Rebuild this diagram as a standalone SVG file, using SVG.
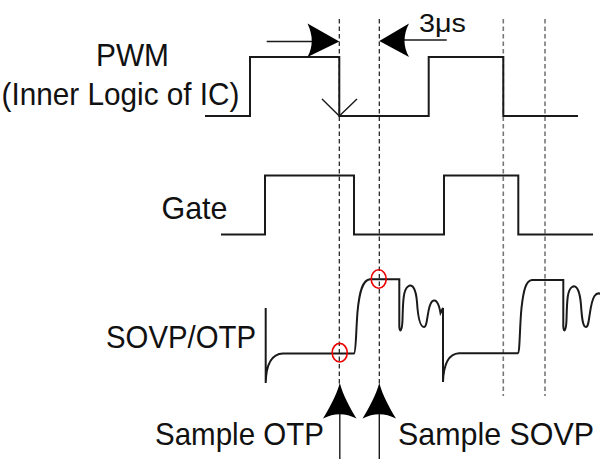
<svg xmlns="http://www.w3.org/2000/svg" width="600" height="459" viewBox="0 0 600 459">
<style>
.sig{fill:none;stroke:#1a1a1a;stroke-width:2;stroke-linejoin:miter}
.thin{fill:none;stroke:#1a1a1a;stroke-width:1.4}
.dashk{fill:none;stroke:#1a1a1a;stroke-width:1.2;stroke-dasharray:4.5 3}
.dashg{fill:none;stroke:#777;stroke-width:1.6;stroke-dasharray:4.5 3}
.head{fill:#000;stroke:none}
.lbl{font-family:"Liberation Sans",Arial,sans-serif;font-size:30.5px;fill:#111}
.mark{fill:none;stroke:#e00;stroke-width:1.6}
</style>
<rect width="600" height="459" fill="#fff"/>
<g id="guides">
<line class="dashk" x1="339.3" y1="19" x2="339.3" y2="386"/>
<line class="dashk" x1="379.3" y1="19" x2="379.3" y2="386"/>
<line class="dashg" x1="503.3" y1="19" x2="503.3" y2="396"/>
<line class="dashg" x1="545" y1="19" x2="545" y2="396"/>
</g>
<g id="pwm">
<path class="sig" d="M205,116 L250,116 L250,57 L339.3,57 L339.3,116 L428.7,116 L428.7,57 L503.3,57 L503.3,116 L578,116"/>
<path class="thin" d="M322,99 L339.3,116 L357,99"/>
</g>
<g id="gate">
<path class="sig" d="M221,234.5 L265,234.5 L265,175.5 L354,175.5 L354,234.5 L444,234.5 L444,175.5 L518.3,175.5 L518.3,234.5 L593,234.5"/>
</g>
<g id="sovp">
<path class="sig" d="M265.7,308 L265.7,383 C266,368 270,354 283,353.5 L354,353.5 C356,353 356,330 357.5,312 C359.5,290 363,280 370,279.3 L399.3,279.3 L399.3,326 C399.5,333 402,332 402.5,320 C403,303 403,290 408,286.5 C413,283 416,290 417,302 C418,318 420,327 424,327 C428,327 427,306 432,301.5 C436,298 439,304 440.5,313 L443,308 L443,382 C443.5,367 447,354 459,353.3 L517.7,353.3 C520,353 519.5,328 521.5,308 C523.5,290 526,280.5 532,280 L563.3,280 L563.3,326 C563.5,333 566,332 566.5,320 C567,303 567,290 572,287 C577,284 580,292 581,305 C582,320 583,327 586,327 C590,327 589,304 594.5,296 C597,292.5 599,293 601,294"/>
<ellipse class="mark" cx="339.7" cy="352.7" rx="7.5" ry="9.3"/>
<ellipse class="mark" cx="378.7" cy="279" rx="7.5" ry="9.3"/>
</g>
<g id="connectors">
<line class="thin" x1="266.7" y1="41.5" x2="312" y2="41.5"/>
<path class="head" d="M339.3,41.5 L307.5,23.5 Q316,41.5 307.5,57 Z"/>
<line class="thin" x1="383" y1="40" x2="446.7" y2="40"/>
<path class="head" d="M379.3,41 L409,23.5 Q400,41 409,57 Z"/>
<line class="thin" x1="339.8" y1="412" x2="339.8" y2="459"/>
<path class="head" d="M339.8,383 C343,395 350,408 356.5,418.5 Q339.8,410 323,418.5 C329.5,408 336.5,395 339.8,383 Z"/>
<line class="thin" x1="379.3" y1="412" x2="379.3" y2="459"/>
<path class="head" d="M379.3,383 C382.5,395 389.5,408 396,418.5 Q379.3,410 362.5,418.5 C369,408 376,395 379.3,383 Z"/>
</g>
<g id="labels">
<text class="lbl" x="96" y="66" textLength="73" lengthAdjust="spacingAndGlyphs">PWM</text>
<text class="lbl" x="1.5" y="105" textLength="238" lengthAdjust="spacingAndGlyphs">(Inner Logic of IC)</text>
<text class="lbl" x="161.5" y="219" textLength="66" lengthAdjust="spacingAndGlyphs">Gate</text>
<text class="lbl" x="106" y="348" textLength="150" lengthAdjust="spacingAndGlyphs">SOVP/OTP</text>
<text class="lbl" x="155" y="445" textLength="169" lengthAdjust="spacingAndGlyphs">Sample OTP</text>
<text class="lbl" x="398" y="445" textLength="196" lengthAdjust="spacingAndGlyphs">Sample SOVP</text>
<text class="lbl" x="419" y="31.5" style="font-size:25px" textLength="47" lengthAdjust="spacingAndGlyphs">3μs</text>
</g>
</svg>
